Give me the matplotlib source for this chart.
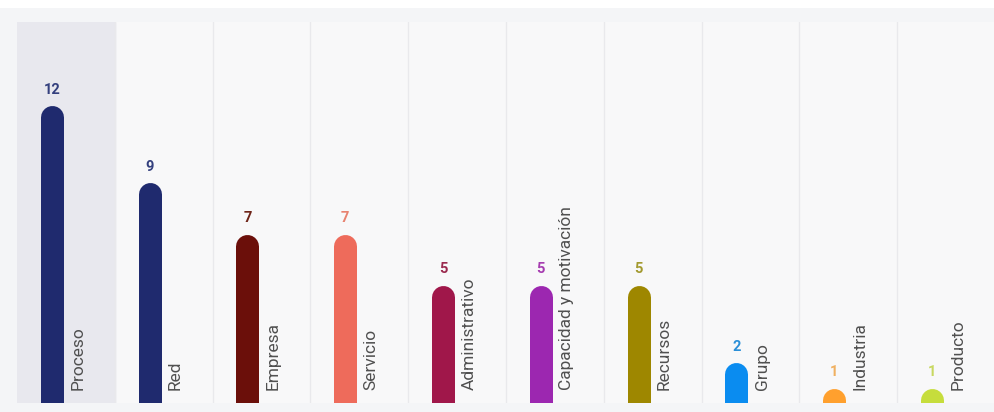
import matplotlib.pyplot as plt
from matplotlib.patches import Rectangle
from matplotlib.transforms import blended_transform_factory

plt.rcParams['font.family'] = ['Roboto', 'DejaVu Sans']

categories = ["Proceso", "Red", "Empresa", "Servicio", "Administrativo",
              "Capacidad y motivación", "Recursos", "Grupo", "Industria", "Producto"]
values = [12, 9, 7, 7, 5, 5, 5, 2, 1, 1]
bar_colors = ["#1f2a6e", "#1f2a6e", "#6b0f0a", "#ee6b5b", "#a0174a",
              "#9c27b0", "#9e8700", "#0a8cf0", "#ffa02e", "#c6dd3c"]
value_colors = ["#34407e", "#34407e", "#6e2418", "#e8826f", "#9b2a4f",
                "#a63cb0", "#a39a30", "#2a8fd8", "#f0b060", "#c8d860"]

W, H, DPI = 995, 412, 100
fig = plt.figure(figsize=(W / DPI, H / DPI), dpi=DPI, facecolor="white")

# outer panel
fig.patches.append(Rectangle((0, 0), 1, (H - 8) / H, transform=fig.transFigure,
                             facecolor="#f4f5f7", edgecolor="none", zorder=-1))

left, right, top, bottom = 17, 995, 22, 403
ax = fig.add_axes([left / W, (H - bottom) / H, (right - left) / W, (bottom - top) / H])
ax.set_facecolor("#f8f8f9")

# zero line sits a little below the visible bottom edge
px_per_unit = 25.7
ymin = 11.0 / px_per_unit
ymax = ymin + (bottom - top) / px_per_unit
ax.set_ylim(ymin, ymax)
ax.set_xlim(-0.5, len(categories) - 0.5)

# highlighted first column and separators
ax.axvspan(-0.5, 0.5, color="#e8e8ee", zorder=0)
for i in range(len(categories)):
    ax.axvline(i + 0.5, color="#e9e9ec", lw=1, zorder=0.5)

bar_px = 23
lw_pt = bar_px * 72 / DPI
cap = (bar_px / 2) / px_per_unit
offset = 0.145

label_tr = blended_transform_factory(ax.transData, ax.transAxes)
for i, (cat, v) in enumerate(zip(categories, values)):
    x = i - offset
    ax.plot([x, x], [-2, v - cap], color=bar_colors[i], lw=lw_pt,
            solid_capstyle="round", zorder=2)
    ax.annotate(str(v), (x, v), xytext=(0, 6.5), textcoords="offset points",
                ha="center", va="bottom", fontsize=10.5, fontweight="bold",
                color=value_colors[i], zorder=3)
    ax.text(i + 0.12, 0.033, cat, transform=label_tr, rotation=90,
            ha="center", va="bottom", fontsize=12.5, color="#505050", zorder=3)

ax.set_xticks([])
ax.set_yticks([])
for s in ax.spines.values():
    s.set_visible(False)

fig.savefig("out.png", dpi=DPI)
